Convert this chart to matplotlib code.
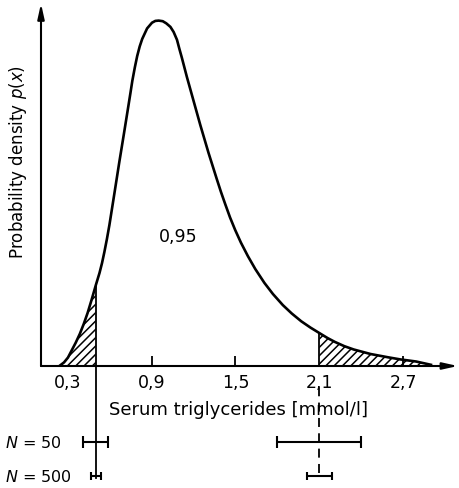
import matplotlib
matplotlib.use("Agg")
import matplotlib.pyplot as plt

# curve: x in mmol/l, density in arbitrary units
x_pts = [0.244, 0.272, 0.3, 0.328, 0.356, 0.385, 0.413, 0.441, 0.469, 0.5,
         0.526, 0.544, 0.561, 0.579, 0.597, 0.632, 0.667, 0.702, 0.733, 0.747,
         0.761, 0.779, 0.796, 0.814, 0.832, 0.867, 0.902, 0.926, 0.95, 0.979,
         1.004, 1.034, 1.057, 1.081, 1.098, 1.116, 1.152, 1.2, 1.248, 1.307,
         1.366, 1.396, 1.426, 1.461, 1.498, 1.539, 1.589, 1.642, 1.707, 1.768,
         1.839, 1.903, 1.971, 2.037, 2.1, 2.16, 2.213, 2.28, 2.347, 2.467,
         2.593, 2.68, 2.793, 2.9]
p_pts = [0.002, 0.012, 0.028, 0.053, 0.078, 0.107, 0.14, 0.177, 0.22, 0.27,
         0.31, 0.343, 0.38, 0.423, 0.47, 0.573, 0.677, 0.777, 0.867, 0.908,
         0.95, 0.995, 1.033, 1.065, 1.09, 1.125, 1.144, 1.15, 1.151, 1.149,
         1.142, 1.13, 1.113, 1.087, 1.057, 1.027, 0.963, 0.883, 0.803, 0.71,
         0.623, 0.58, 0.54, 0.495, 0.453, 0.411, 0.366, 0.323, 0.277, 0.24,
         0.203, 0.175, 0.149, 0.128, 0.11, 0.093, 0.08, 0.066, 0.055, 0.04,
         0.029, 0.022, 0.015, 0.004]

lower_cut = 0.5
upper_cut = 2.1
tick_vals = [0.3, 0.9, 1.5, 2.1, 2.7]
tick_labels = ["0,3", "0,9", "1,5", "2,1", "2,7"]
inner_area = "0,95"

# confidence intervals of the limits for two sample sizes
n_labels = ["$N$ = 50", "$N$ = 500"]
lower_err = [0.09, 0.035]
upper_err = [0.3, 0.09]

x0, x1 = 0.107, 3.108
y_top = 1.213
row_y = [-0.253, -0.367]

plt.rcParams["hatch.linewidth"] = 1.1
narrow = ["Liberation Sans Narrow", "DejaVu Sans"]

fig = plt.figure(figsize=(4.6, 4.89), dpi=100)
ax = fig.add_axes([41 / 460, 1 - 367 / 489, 419 / 460, 364 / 489])
ax.set_xlim(x0, x1)
ax.set_ylim(0, y_top)
for s in ax.spines.values():
    s.set_visible(False)
ax.set_yticks([])

# axes drawn as arrows
arrow = dict(arrowstyle="-|>,head_length=0.9,head_width=0.2", lw=1.5,
             color="black", shrinkA=0, shrinkB=0)
ax.annotate("", xy=(x1 - 0.015, 0), xytext=(x0, 0), arrowprops=arrow,
            annotation_clip=False)
ax.annotate("", xy=(x0, y_top - 0.005), xytext=(x0, 0), arrowprops=arrow,
            annotation_clip=False)

ax.plot(x_pts, p_pts, color="black", lw=1.9, solid_joinstyle="round")

i_lo = x_pts.index(lower_cut)
i_hi = x_pts.index(upper_cut)
ax.fill_between(x_pts[:i_lo + 1], 0, p_pts[:i_lo + 1], facecolor="none",
                edgecolor="black", hatch="////", lw=0)
ax.fill_between(x_pts[i_hi:], 0, p_pts[i_hi:], facecolor="none",
                edgecolor="black", hatch="////", lw=0)

# limit lines
ax.plot([lower_cut, lower_cut], [row_y[1] - 0.005, p_pts[i_lo]], color="black",
        lw=1.3, clip_on=False)
ax.plot([upper_cut, upper_cut], [0, p_pts[i_hi]], color="black", lw=1.3)
ax.plot([upper_cut, upper_cut], [row_y[1] + 0.01, -0.07], color="black",
        lw=1.3, ls=(0, (5, 3.5)), clip_on=False)

# ticks
ax.set_xticks(tick_vals)
ax.set_xticklabels(tick_labels, family=narrow, fontsize=12.5)
ax.tick_params(axis="x", direction="in", length=7, width=1.3, pad=5)
ax.xaxis.get_major_ticks()[0].tick1line.set_visible(False)
ax.xaxis.get_major_ticks()[3].tick1line.set_visible(False)

for k in range(2):
    for cx, err in [(lower_cut, lower_err[k]), (upper_cut, upper_err[k])]:
        eb = ax.errorbar(cx, row_y[k], xerr=err, color="black", lw=1.5,
                         capsize=4 if k == 0 else 3, capthick=1.5)
        for art in eb.get_children():
            art.set_clip_on(False)
    ax.text(-0.151, row_y[k], n_labels[k], ha="left", va="center",
            fontsize=11.5, family=narrow)

ax.text(1.525, -0.143, "Serum triglycerides [mmol/l]", ha="center",
        va="center", fontsize=13)
ax.text(-0.058, 0.683, "Probability density $p(x)$", ha="center",
        va="center", rotation=90, fontsize=12)
ax.text(1.088, 0.433, inner_area, ha="center", va="center", fontsize=12.5,
        family=narrow)

fig.savefig("out.png", dpi=100)
